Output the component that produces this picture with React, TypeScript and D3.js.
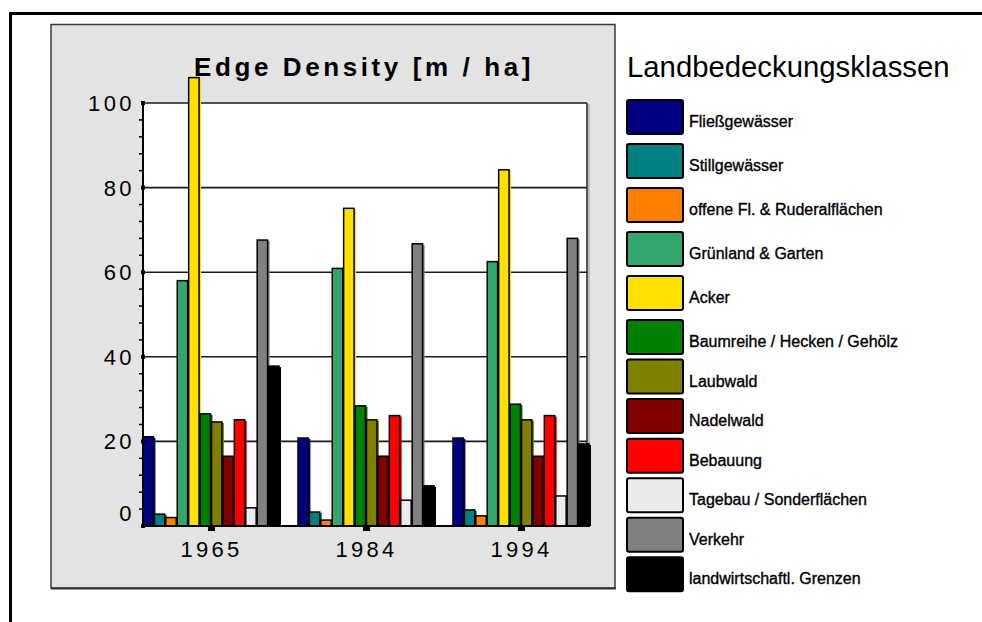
import React from "react";
import * as d3 from "d3";

const years = ["1965", "1984", "1994"];
const classes = [
  "Fließgewässer",
  "Stillgewässer",
  "offene Fl. & Ruderalflächen",
  "Grünland & Garten",
  "Acker",
  "Baumreihe / Hecken / Gehölz",
  "Laubwald",
  "Nadelwald",
  "Bebauung",
  "Tagebau / Sonderflächen",
  "Verkehr",
  "landwirtschaftl. Grenzen",
];
const colors = [
  "#000080",
  "#008080",
  "#ff8000",
  "#33a66b",
  "#ffe000",
  "#008000",
  "#808000",
  "#800000",
  "#ff0000",
  "#ebebeb",
  "#808080",
  "#000000",
];
const values1965 = [21.1, 2.8, 2.0, 58, 106, 26.5, 24.6, 16.5, 25.1, 4.3, 67.6, 37.8];
const values1984 = [20.8, 3.3, 1.4, 60.9, 75.1, 28.4, 25.1, 16.5, 26.1, 6.1, 66.7, 9.5];
const values1994 = [20.8, 3.8, 2.4, 62.5, 84.2, 28.8, 25.1, 16.5, 26.1, 7.1, 68, 19.4];
const seriesByYear = [values1965, values1984, values1994];
const yTicks = [0, 20, 40, 60, 80, 100];
const chartTitle = "Edge Density [m / ha]";
const legendTitle = "Landbedeckungsklassen";

const FONT = "'Liberation Sans', Arial, Helvetica, sans-serif";

export default function App() {
  const plotLeft = 143;
  const plotRight = 587;
  const y = d3.scaleLinear().domain([0, 100]).range([526, 103]);
  const x0 = d3
    .scaleBand<string>()
    .domain(years)
    .range([143, 590])
    .paddingInner(0.116)
    .paddingOuter(0);
  const x1 = d3
    .scaleBand<number>()
    .domain(d3.range(classes.length))
    .range([0, x0.bandwidth()])
    .padding(0);
  const minorTicks = d3.range(0, 101, 4).filter((v) => v % 20 !== 0);
  const legendY = d3.scaleLinear().domain([0, 5, 11]).range([100, 320, 557.3]);
  const bw = x1.bandwidth() - 1;

  return (
    <svg
      width={982}
      height={622}
      style={{ position: "absolute", left: 0, top: 0, background: "#fff" }}
      fontFamily={FONT}
    >
      {/* outer frame */}
      <line x1={9} y1={13.5} x2={982} y2={13.5} stroke="#000" strokeWidth={3} />
      <line x1={10.5} y1={12} x2={10.5} y2={622} stroke="#000" strokeWidth={3} />

      {/* gray panel */}
      <rect x={51} y={24.5} width={564} height={563.5} fill="#e3e3e3" stroke="#3a3a3a" strokeWidth={1.5} />
      <line x1={51} y1={588.5} x2={616} y2={588.5} stroke="#333" strokeWidth={2} />

      {/* plot area */}
      <rect x={plotLeft} y={y(100)} width={plotRight - plotLeft} height={y(0) - y(100)} fill="#fff" />
      <line x1={plotRight + 2} y1={y(100) + 1} x2={plotRight + 2} y2={y(0)} stroke="#bdbdbd" strokeWidth={2} />
      <line x1={plotRight} y1={y(100)} x2={plotRight} y2={y(0)} stroke="#222" strokeWidth={1.5} />
      {yTicks
        .filter((v) => v > 0)
        .map((v) => (
          <line key={v} x1={plotLeft} y1={y(v)} x2={plotRight} y2={y(v)} stroke="#1a1a1a" strokeWidth={1.6} />
        ))}

      {/* title */}
      <text
        x={364}
        y={76}
        textAnchor="middle"
        fontSize={26}
        fontWeight="bold"
        letterSpacing={3.6}
        fill="#000"
      >
        {chartTitle}
      </text>

      {/* bars */}
      {years.map((yr, gi) => (
        <g key={yr}>
          {seriesByYear[gi].map((v, i) => {
            const bx = (x0(yr) as number) + (x1(i) as number);
            const by = y(v);
            const h = y(0) - by;
            return (
              <g key={i}>
                <rect
                  x={bx + 2}
                  y={by + 1}
                  width={bw}
                  height={h - 1}
                  fill={i === 9 ? "#ffffff" : colors[i]}
                />
                <rect
                  x={bx}
                  y={by}
                  width={bw}
                  height={h}
                  fill={colors[i]}
                  stroke="#000"
                  strokeWidth={1.5}
                />
              </g>
            );
          })}
        </g>
      ))}

      {/* y axis */}
      <line x1={plotLeft} y1={y(100)} x2={plotLeft} y2={y(0)} stroke="#000" strokeWidth={2} />
      {minorTicks.map((v) => (
        <line key={v} x1={plotLeft - 4} y1={y(v)} x2={plotLeft} y2={y(v)} stroke="#000" strokeWidth={1.5} />
      ))}
      {yTicks.map((v) => (
        <g key={v}>
          <rect x={plotLeft - 2} y={y(v) - 2} width={4} height={4} fill="#000" />
          <text
            x={135}
            y={(v === 0 ? y(3) : y(v)) + 8}
            textAnchor="end"
            fontSize={22}
            letterSpacing={3.4}
            fill="#000"
          >
            {v}
          </text>
        </g>
      ))}

      {/* x axis */}
      <line x1={plotLeft - 2} y1={y(0)} x2={590} y2={y(0)} stroke="#000" strokeWidth={2.2} />
      {years.map((yr) => {
        const cx = (x0(yr) as number) + x0.bandwidth() / 2;
        return (
          <g key={yr}>
            <rect x={cx - 3.5} y={y(0)} width={7} height={5} fill="#000" />
            <text x={cx} y={557} textAnchor="middle" fontSize={22} letterSpacing={3.3} fill="#000">
              {yr}
            </text>
          </g>
        );
      })}

      {/* legend */}
      <text x={627} y={77} fontSize={29.3} fill="#000">
        {legendTitle}
      </text>
      {classes.map((c, i) => {
        const top = legendY(i);
        return (
          <g key={c}>
            <rect
              x={627}
              y={top}
              width={56}
              height={34}
              rx={2}
              fill={colors[i]}
              stroke="#000"
              strokeWidth={2}
            />
            <text x={689} y={top + 27} fontSize={16} fill="#000" stroke="#000" strokeWidth={0.35}>
              {c}
            </text>
          </g>
        );
      })}
    </svg>
  );
}
